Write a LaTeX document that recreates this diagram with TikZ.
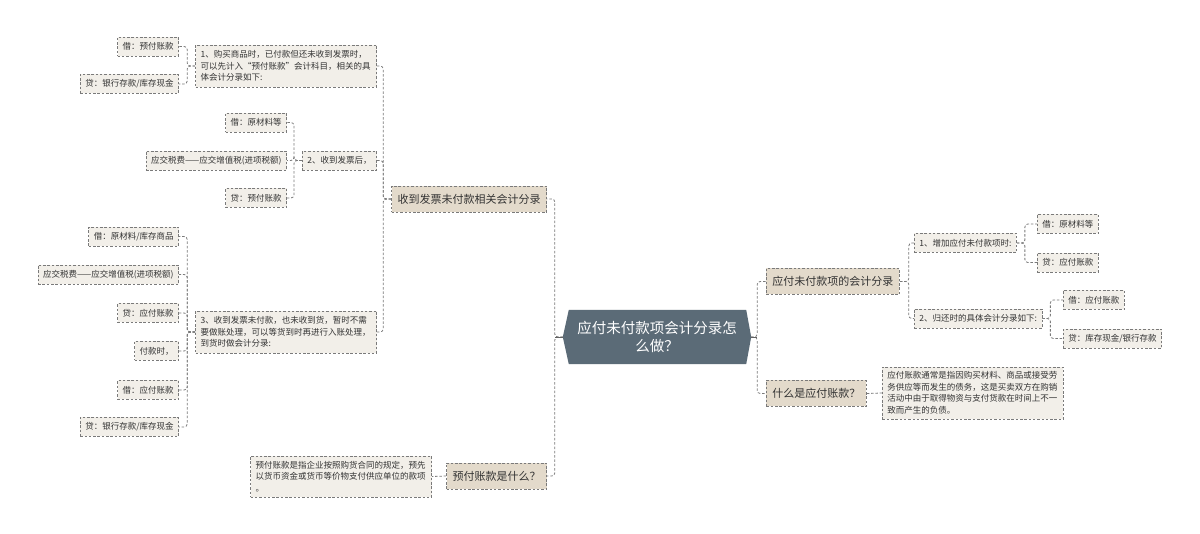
\documentclass[tikz,border=0pt]{standalone}
\usepackage{fontspec}
\setmainfont{Noto Sans CJK SC}
\usetikzlibrary{backgrounds}
\definecolor{rootc}{HTML}{5B6B77}
\definecolor{lvone}{HTML}{E3DACB}
\definecolor{lvtwo}{HTML}{F2EFE9}
\definecolor{edgec}{HTML}{7A7A7A}
\definecolor{txt}{HTML}{333333}
\begin{document}
\begin{tikzpicture}[x=1pt,y=-1pt,
  base/.style={draw=edgec, line width=0.8pt, dash pattern=on 2.5pt off 1.8pt, text=txt, inner sep=0pt},
  onebox/.style={base, fill=lvone, font=\fontsize{11}{13}\selectfont, inner xsep=6pt, minimum height=26pt},
  leaf/.style={base, fill=lvtwo, font=\fontsize{8.5}{11.5}\selectfont, inner xsep=5pt, minimum height=19pt},
  para/.style={leaf, align=left, text width=171pt},
  link/.style={draw=edgec, line width=0.8pt, dash pattern=on 2.5pt off 1.8pt, rounded corners=3pt},
  stub/.style={draw=edgec!80!black, line width=0.9pt},
  rootnode/.style={text=white, font=\fontsize{14.5}{18.5}\selectfont, align=center, minimum width=188pt, minimum height=54pt, inner sep=0pt}
]
\useasboundingbox (0,0) rectangle (1200,534);

% root
\node[rootnode] (root) at (657,337) {应付未付款项会计分录怎\\么做？};
\begin{scope}[on background layer]
\fill[white] (0,0) rectangle (1200,534);
\fill[rootc] ([xshift=6pt]root.north west) -- ([xshift=-5pt]root.north east) -- (root.east)
  -- ([xshift=-5pt]root.south east) -- ([xshift=6pt]root.south west) -- (root.west) -- cycle;
\end{scope}

% left level 1
\node[onebox, anchor=east] (L1) at (547,199) {收到发票未付款相关会计分录};
\node[onebox, anchor=east] (L2) at (547,476) {预付账款是什么？};

% left level 2
\node[para, anchor=east, minimum height=42pt] (A1) at (377,66) {1、购买商品时，已付款但还未收到发票时，\\可以先计入“预付账款”会计科目，相关的具\\体会计分录如下:};
\node[leaf, anchor=east] (A2) at (377,160.5) {2、收到发票后，};
\node[para, anchor=east, minimum height=42pt] (A3) at (377,332) {3、收到发票未付款，也未收到货，暂时不需\\要做账处理，可以等货到时再进行入账处理，\\到货时做会计分录:};
\node[para, anchor=east, minimum height=41pt] (B1) at (432,476.5) {预付账款是指企业按照购货合同的规定，预先\\以货币资金或货币等价物支付供应单位的款项\\。};

% left level 3
\node[leaf, anchor=east] (A1a) at (179,46.5) {借：预付账款};
\node[leaf, anchor=east] (A1b) at (179,84) {贷：银行存款/库存现金};
\node[leaf, anchor=east] (A2a) at (287,122.5) {借：原材料等};
\node[leaf, anchor=east] (A2b) at (287,160.5) {应交税费——应交增值税(进项税额)};
\node[leaf, anchor=east] (A2c) at (287,198) {贷：预付账款};
\node[leaf, anchor=east] (A3a) at (179,236.5) {借：原材料/库存商品};
\node[leaf, anchor=east] (A3b) at (179,274.5) {应交税费——应交增值税(进项税额)};
\node[leaf, anchor=east] (A3c) at (179,313) {贷：应付账款};
\node[leaf, anchor=east] (A3d) at (179,351) {付款时，};
\node[leaf, anchor=east] (A3e) at (179,390) {借：应付账款};
\node[leaf, anchor=east] (A3f) at (179,427) {贷：银行存款/库存现金};

% right level 1
\node[onebox, anchor=west] (R1) at (766,281.5) {应付未付款项的会计分录};
\node[onebox, anchor=west] (R2) at (766,393.5) {什么是应付账款？};

% right level 2
\node[leaf, anchor=west] (R1a) at (914,243) {1、增加应付未付款项时:};
\node[leaf, anchor=west] (R1b) at (914,318.5) {2、归还时的具体会计分录如下:};
\node[para, anchor=west, minimum height=52pt] (R2a) at (882,393) {应付账款通常是指因购买材料、商品或接受劳\\务供应等而发生的债务，这是买卖双方在购销\\活动中由于取得物资与支付货款在时间上不一\\致而产生的负债。};

% right level 3
\node[leaf, anchor=west] (R1a1) at (1037,224) {借：原材料等};
\node[leaf, anchor=west] (R1a2) at (1037,262.5) {贷：应付账款};
\node[leaf, anchor=west] (R1b1) at (1063,300) {借：应付账款};
\node[leaf, anchor=west] (R1b2) at (1063,338.5) {贷：库存现金/银行存款};

% connectors: root
\draw[link] (root.west) -- ++(-8,0) |- (L1.east);
\draw[link] (root.west) -- ++(-8,0) |- (L2.east);
\draw[link] (root.east) -- ++(6,0) |- (R1.west);
\draw[link] (root.east) -- ++(6,0) |- (R2.west);
\draw[stub] (root.west) -- ++(-8,0);
\draw[stub] (root.east) -- ++(6,0);

% left connectors
\draw[link] (L1.west) -- ++(-8,0) |- (A1.east);
\draw[link] (L1.west) -- ++(-8,0) |- (A2.east);
\draw[link] (L1.west) -- ++(-8,0) |- (A3.east);
\draw[link] (L2.west) -- (B1.east);

\draw[link] (A1.west) -- ++(-8,0) |- (A1a.east);
\draw[link] (A1.west) -- ++(-8,0) |- (A1b.east);
\draw[link] (A2.west) -- ++(-8,0) |- (A2a.east);
\draw[link] (A2.west) -- ++(-8,0) |- (A2b.east);
\draw[link] (A2.west) -- ++(-8,0) |- (A2c.east);
\foreach \c in {A3a,A3b,A3c,A3d,A3e,A3f}
  \draw[link] (A3.west) -- ++(-8,0) |- (\c.east);

% right connectors
\draw[link] (R1.east) -- ++(9,0) |- (R1a.west);
\draw[link] (R1.east) -- ++(9,0) |- (R1b.west);
\draw[link] (R2.east) -- (R2a.west);
\draw[link] (R1a.east) -- ++(8,0) |- (R1a1.west);
\draw[link] (R1a.east) -- ++(8,0) |- (R1a2.west);
\draw[link] (R1b.east) -- ++(8,0) |- (R1b1.west);
\draw[link] (R1b.east) -- ++(8,0) |- (R1b2.west);
\end{tikzpicture}
\end{document}
